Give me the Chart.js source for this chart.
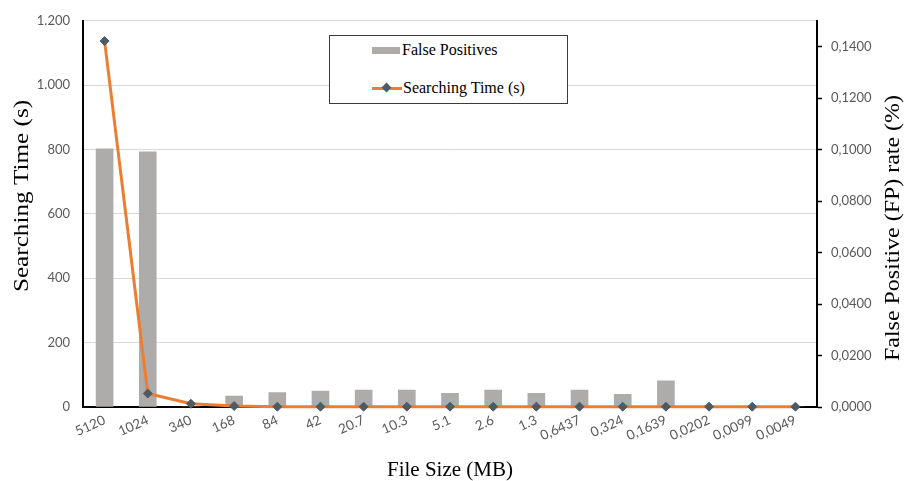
<!DOCTYPE html>
<html>
<head>
<meta charset="utf-8">
<script src="https://cdn.jsdelivr.net/npm/chart.js@4.4.1/dist/chart.umd.min.js"></script>
<style>
    html, body { margin: 0; padding: 0; background: #fff; }
    #wrap { position: relative; width: 906px; height: 481px; }
    #legend {
        position: absolute; left: 329px; top: 35px; width: 237px; height: 67px;
        border: 1px solid #3b3b3b; background: #fff;
        font-family: "Liberation Serif", serif; font-size: 16px; color: #000;
    }
    .lg-item { position: absolute; left: 42px; display: flex; align-items: center; height: 20px; }
    .sw-bar { width: 28px; height: 7px; background: #AEABAB; margin-right: 2px; }
    .sw-line { position: relative; width: 30px; height: 3px; background: #ED7D31; margin-right: 1px; }
    .sw-line::after {
        content: ''; position: absolute; left: 11px; top: -2.5px; width: 7px; height: 7px;
        background: #4F5B62; transform: rotate(45deg);
    }
</style>
</head>
<body>
<div id="wrap">
    <canvas id="chart" width="906" height="481"></canvas>
    <div id="legend">
        <div class="lg-item" style="top:4px"><span class="sw-bar"></span>False Positives</div>
        <div class="lg-item" style="top:42px"><span class="sw-line"></span>Searching Time (s)</div>
    </div>
</div>
<script>
// données
const fileSizes = ['5120', '1024', '340', '168', '84', '42', '20.7', '10.3', '5.1', '2.6', '1.3',
    '0,6437', '0,324', '0,1639', '0,0202', '0,0099', '0,0049'];
const searchingTime = [1137, 42, 10, 3, 1, 1, 1, 1, 1, 1, 1, 1, 1, 1, 1, 1, 1];
const falsePositives = [0.1003, 0.0991, 0, 0.0042, 0.0056, 0.0062, 0.0066, 0.0066, 0.0053,
    0.0066, 0.0053, 0.0066, 0.0049, 0.0102, 0, 0, 0];

const xTitle = 'File Size (MB)';
const yTitle = 'Searching Time (s)';
const y1Title = 'False Positive (FP) rate (%)';

const tickFont = { family: 'Lato', size: 13 };
const tickColor = '#595959';

// Titres des axes dessinés à la main (le titre de droite se lit de bas en haut)
const drawVertical = (ctx, text, x, y, stretch) => {
    ctx.save();
    ctx.font = '21px "Liberation Serif"';
    ctx.fillStyle = '#000';
    ctx.textAlign = 'center';
    ctx.textBaseline = 'middle';
    ctx.translate(x, y);
    ctx.rotate(-Math.PI / 2);
    ctx.scale(stretch, 1);
    ctx.fillText(text, 0, 0);
    ctx.restore();
};

const axisTitles = {
    id: 'axisTitles',
    afterDraw(chart) {
        const { ctx, chartArea } = chart;
        ctx.save();
        ctx.font = '21px "Liberation Serif"';
        ctx.fillStyle = '#000';
        ctx.textAlign = 'center';
        ctx.textBaseline = 'alphabetic';
        ctx.fillText(xTitle, (chartArea.left + chartArea.right) / 2, 476);
        ctx.restore();
        drawVertical(ctx, yTitle, 22, 196, 1.2);
        drawVertical(ctx, y1Title, 893, 228, 1.14);
    },
};

new Chart(document.getElementById('chart'), {
    data: {
        labels: fileSizes,
        datasets: [
            {
                type: 'line',
                label: 'Searching Time (s)',
                data: searchingTime,
                yAxisID: 'y',
                order: 1,
                borderColor: '#ED7D31',
                borderWidth: 3,
                tension: 0,
                clip: false,
                pointStyle: 'rectRot',
                pointRadius: 4.5,
                pointBackgroundColor: '#4F5B62',
                pointBorderColor: '#4F5B62',
                pointBorderWidth: 1,
            },
            {
                type: 'bar',
                label: 'False Positives',
                data: falsePositives,
                yAxisID: 'y1',
                order: 2,
                backgroundColor: '#AEABAB',
                barThickness: 17,
            },
        ],
    },
    plugins: [axisTitles],
    options: {
        responsive: false,
        animation: false,
        layout: { padding: { top: 18, left: 0, right: 0, bottom: 0 } },
        plugins: {
            legend: { display: false },
            tooltip: { enabled: false },
        },
        scales: {
            x: {
                afterFit: s => { s.height = 74; },
                grid: { display: false },
                border: { display: true, color: '#000', width: 2 },
                ticks: {
                    color: tickColor,
                    font: { family: 'Lato', size: 13.5 },
                    minRotation: 24,
                    maxRotation: 24,
                    padding: -3,
                    autoSkip: false,
                },
            },
            y: {
                position: 'left',
                min: 0,
                max: 1200,
                afterFit: s => { s.width = 83; },
                grid: { color: '#D9D9D9', drawTicks: false },
                border: { display: true, color: '#000', width: 2 },
                ticks: {
                    stepSize: 200,
                    color: tickColor,
                    font: tickFont,
                    padding: 13,
                    callback: v => v >= 1000 ? Math.floor(v / 1000) + '.' + String(v % 1000).padStart(3, '0') : String(v),
                },
            },
            y1: {
                position: 'right',
                min: 0,
                max: 0.15,
                afterFit: s => { s.width = 89; },
                afterBuildTicks: s => { s.ticks = s.ticks.filter(t => t.value <= 0.1401); },
                grid: { drawOnChartArea: false, drawTicks: true, tickLength: 5, tickColor: '#000', tickWidth: 1.5 },
                border: { display: true, color: '#000', width: 2 },
                ticks: {
                    stepSize: 0.02,
                    color: tickColor,
                    font: tickFont,
                    padding: 9,
                    callback: v => v.toFixed(4).replace('.', ','),
                },
            },
        },
    },
});
</script>
</body>
</html>
